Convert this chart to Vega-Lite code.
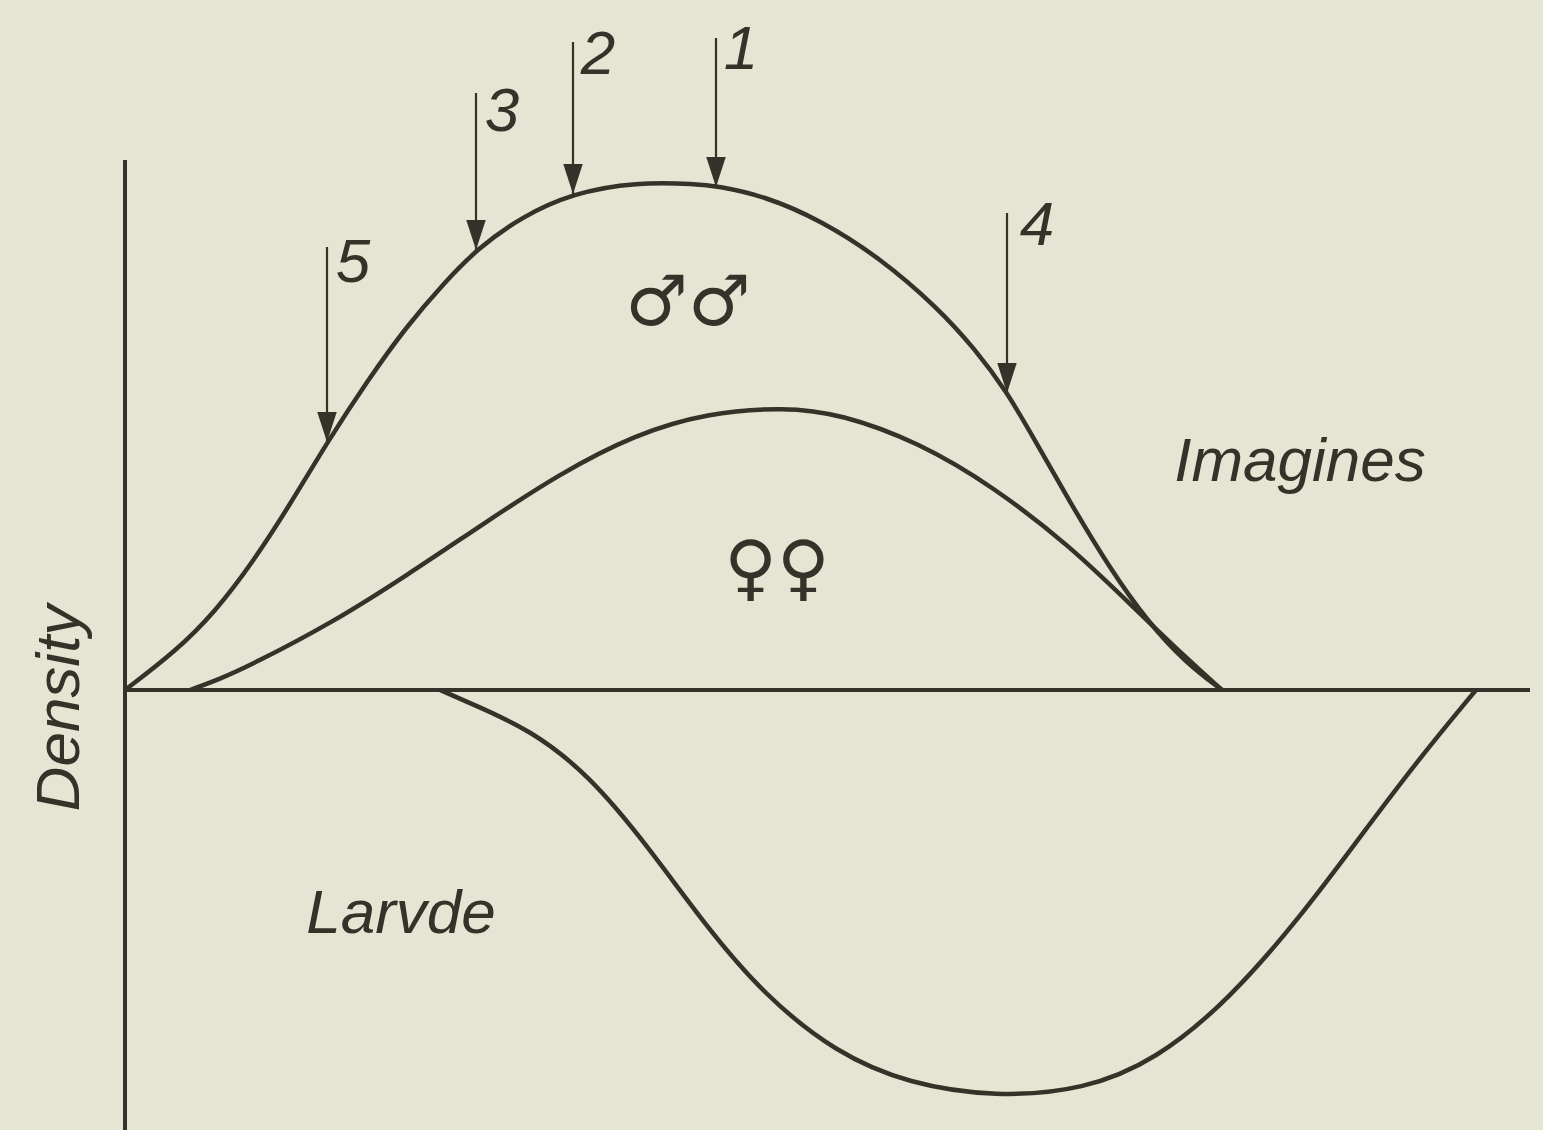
{
  "$schema": "https://vega.github.io/schema/vega-lite/v6.json",
  "width": 1543,
  "height": 1130,
  "autosize": {"type": "none"},
  "padding": 0,
  "background": "#e6e5d3",
  "config": {"view": {"stroke": null}},
  "datasets": {
    "curves": [
      {"series": "males", "t": 0, "density": 0},
      {"series": "males", "t": 5.1, "density": 3.9},
      {"series": "males", "t": 9.0, "density": 7.8},
      {"series": "males", "t": 12.8, "density": 12.8},
      {"series": "males", "t": 16.6, "density": 18.7},
      {"series": "males", "t": 20.3, "density": 24.9},
      {"series": "males", "t": 24.3, "density": 31.0},
      {"series": "males", "t": 28.1, "density": 36.3},
      {"series": "males", "t": 31.9, "density": 40.7},
      {"series": "males", "t": 35.2, "density": 44.1},
      {"series": "males", "t": 39.6, "density": 47.3},
      {"series": "males", "t": 44.8, "density": 49.7},
      {"series": "males", "t": 51.1, "density": 50.8},
      {"series": "males", "t": 57.2, "density": 50.6},
      {"series": "males", "t": 59.1, "density": 50.4},
      {"series": "males", "t": 64.0, "density": 49.4},
      {"series": "males", "t": 69.7, "density": 46.9},
      {"series": "males", "t": 75.5, "density": 43.2},
      {"series": "males", "t": 81.2, "density": 38.3},
      {"series": "males", "t": 85.0, "density": 34.1},
      {"series": "males", "t": 88.2, "density": 29.8},
      {"series": "males", "t": 90.8, "density": 25.3},
      {"series": "males", "t": 94.6, "density": 18.6},
      {"series": "males", "t": 98.4, "density": 12.3},
      {"series": "males", "t": 102.2, "density": 6.9},
      {"series": "males", "t": 106.1, "density": 2.7},
      {"series": "males", "t": 109.7, "density": 0},
      {"series": "females", "t": 6.5, "density": 0},
      {"series": "females", "t": 9.5, "density": 1.1},
      {"series": "females", "t": 12.8, "density": 2.6},
      {"series": "females", "t": 20.5, "density": 6.6},
      {"series": "females", "t": 28.1, "density": 11.4},
      {"series": "females", "t": 35.8, "density": 16.6},
      {"series": "females", "t": 43.4, "density": 21.6},
      {"series": "females", "t": 51.1, "density": 25.6},
      {"series": "females", "t": 58.2, "density": 27.7},
      {"series": "females", "t": 65.9, "density": 28.3},
      {"series": "females", "t": 71.6, "density": 27.6},
      {"series": "females", "t": 79.3, "density": 24.8},
      {"series": "females", "t": 86.9, "density": 20.3},
      {"series": "females", "t": 94.6, "density": 14.3},
      {"series": "females", "t": 100.3, "density": 8.8},
      {"series": "females", "t": 106.1, "density": 3.2},
      {"series": "females", "t": 109.7, "density": 0},
      {"series": "larvae", "t": 31.5, "density": 0},
      {"series": "larvae", "t": 34.5, "density": -1.3},
      {"series": "larvae", "t": 40.6, "density": -4.0},
      {"series": "larvae", "t": 46.4, "density": -8.5},
      {"series": "larvae", "t": 52.2, "density": -15.5},
      {"series": "larvae", "t": 58.0, "density": -23.5},
      {"series": "larvae", "t": 63.9, "density": -30.5},
      {"series": "larvae", "t": 71.1, "density": -36.3},
      {"series": "larvae", "t": 78.4, "density": -39.4},
      {"series": "larvae", "t": 87.1, "density": -40.7},
      {"series": "larvae", "t": 95.9, "density": -40.0},
      {"series": "larvae", "t": 103.1, "density": -37.0},
      {"series": "larvae", "t": 110.4, "density": -31.0},
      {"series": "larvae", "t": 117.7, "density": -22.5},
      {"series": "larvae", "t": 123.5, "density": -14.7},
      {"series": "larvae", "t": 129.3, "density": -7.0},
      {"series": "larvae", "t": 135.1, "density": 0}
    ],
    "axes": [
      {"t": 0, "t2": 0, "d": -44, "d2": 53},
      {"t": 0, "t2": 140.5, "d": 0, "d2": 0}
    ],
    "arrows": [
      {"label": "1", "t": 59.1, "top": 65.2, "tip": 50.3, "lt": 61.6, "ld": 64.0},
      {"label": "2", "t": 44.8, "top": 64.8, "tip": 49.6, "lt": 47.3, "ld": 63.5},
      {"label": "3", "t": 35.1, "top": 59.7, "tip": 44.0, "lt": 37.7, "ld": 57.8},
      {"label": "4", "t": 88.2, "top": 47.7, "tip": 29.7, "lt": 91.2, "ld": 46.4},
      {"label": "5", "t": 20.2, "top": 44.3, "tip": 24.8, "lt": 22.8, "ld": 42.7}
    ],
    "words": [
      {"text": "Imagines", "t": 117.5, "d": 22.8},
      {"text": "Larvde", "t": 27.6, "d": -22.4}
    ],
    "males": [
      {"text": "♂♂", "t": 56.3, "d": 38.6}
    ],
    "females": [
      {"text": "♀♀", "t": 65.2, "d": 12.0}
    ],
    "ytitle": [
      {"text": "Density", "t": -6.5, "d": -1.8}
    ]
  },
  "layer": [
    {
      "data": {"name": "axes"},
      "mark": {"type": "rule", "color": "#33332a", "strokeWidth": 4},
      "encoding": {
        "x": {"field": "t", "type": "quantitative", "scale": {"domain": [-12.5, 141.8], "nice": false, "zero": false}, "axis": null},
        "x2": {"field": "t2"},
        "y": {"field": "d", "type": "quantitative", "scale": {"domain": [-44, 69], "nice": false, "zero": false}, "axis": null},
        "y2": {"field": "d2"}
      }
    },
    {
      "data": {"name": "curves"},
      "mark": {"type": "line", "color": "#33332a", "strokeWidth": 4.5, "interpolate": "basis"},
      "encoding": {
        "x": {"field": "t", "type": "quantitative", "scale": {"domain": [-12.5, 141.8], "nice": false, "zero": false}, "axis": null},
        "y": {"field": "density", "type": "quantitative", "scale": {"domain": [-44, 69], "nice": false, "zero": false}, "axis": null},
        "detail": {"field": "series", "type": "nominal"}
      }
    },
    {
      "data": {"name": "arrows"},
      "mark": {"type": "rule", "color": "#33332a", "strokeWidth": 2.2},
      "encoding": {
        "x": {"field": "t", "type": "quantitative", "scale": {"domain": [-12.5, 141.8], "nice": false, "zero": false}, "axis": null},
        "y": {"field": "top", "type": "quantitative", "scale": {"domain": [-44, 69], "nice": false, "zero": false}, "axis": null},
        "y2": {"field": "tip"}
      }
    },
    {
      "data": {"name": "arrows"},
      "mark": {"type": "point", "shape": "M-0.65,-2L0.65,-2L0,0Z", "filled": true, "color": "#33332a", "opacity": 1, "size": 900},
      "encoding": {
        "x": {"field": "t", "type": "quantitative", "scale": {"domain": [-12.5, 141.8], "nice": false, "zero": false}, "axis": null},
        "y": {"field": "tip", "type": "quantitative", "scale": {"domain": [-44, 69], "nice": false, "zero": false}, "axis": null}
      }
    },
    {
      "data": {"name": "arrows"},
      "mark": {"type": "text", "font": "Liberation Sans", "fontStyle": "italic", "fontSize": 62, "color": "#33332a", "align": "center", "baseline": "middle"},
      "encoding": {
        "x": {"field": "lt", "type": "quantitative", "scale": {"domain": [-12.5, 141.8], "nice": false, "zero": false}, "axis": null},
        "y": {"field": "ld", "type": "quantitative", "scale": {"domain": [-44, 69], "nice": false, "zero": false}, "axis": null},
        "text": {"field": "label", "type": "nominal"}
      }
    },
    {
      "data": {"name": "words"},
      "mark": {"type": "text", "font": "Liberation Sans", "fontStyle": "italic", "fontSize": 62, "color": "#33332a", "align": "center", "baseline": "middle"},
      "encoding": {
        "x": {"field": "t", "type": "quantitative", "scale": {"domain": [-12.5, 141.8], "nice": false, "zero": false}, "axis": null},
        "y": {"field": "d", "type": "quantitative", "scale": {"domain": [-44, 69], "nice": false, "zero": false}, "axis": null},
        "text": {"field": "text", "type": "nominal"}
      }
    },
    {
      "data": {"name": "ytitle"},
      "mark": {"type": "text", "font": "Liberation Sans", "fontStyle": "italic", "fontSize": 62, "color": "#33332a", "align": "center", "baseline": "middle", "angle": 270},
      "encoding": {
        "x": {"field": "t", "type": "quantitative", "scale": {"domain": [-12.5, 141.8], "nice": false, "zero": false}, "axis": null},
        "y": {"field": "d", "type": "quantitative", "scale": {"domain": [-44, 69], "nice": false, "zero": false}, "axis": null},
        "text": {"field": "text", "type": "nominal"}
      }
    },
    {
      "data": {"name": "males"},
      "mark": {"type": "text", "font": "DejaVu Sans", "fontSize": 70, "color": "#33332a", "align": "center", "baseline": "middle"},
      "encoding": {
        "x": {"field": "t", "type": "quantitative", "scale": {"domain": [-12.5, 141.8], "nice": false, "zero": false}, "axis": null},
        "y": {"field": "d", "type": "quantitative", "scale": {"domain": [-44, 69], "nice": false, "zero": false}, "axis": null},
        "text": {"field": "text", "type": "nominal"}
      }
    },
    {
      "data": {"name": "females"},
      "mark": {"type": "text", "font": "DejaVu Sans", "fontSize": 72, "color": "#33332a", "align": "center", "baseline": "middle"},
      "encoding": {
        "x": {"field": "t", "type": "quantitative", "scale": {"domain": [-12.5, 141.8], "nice": false, "zero": false}, "axis": null},
        "y": {"field": "d", "type": "quantitative", "scale": {"domain": [-44, 69], "nice": false, "zero": false}, "axis": null},
        "text": {"field": "text", "type": "nominal"}
      }
    }
  ]
}
